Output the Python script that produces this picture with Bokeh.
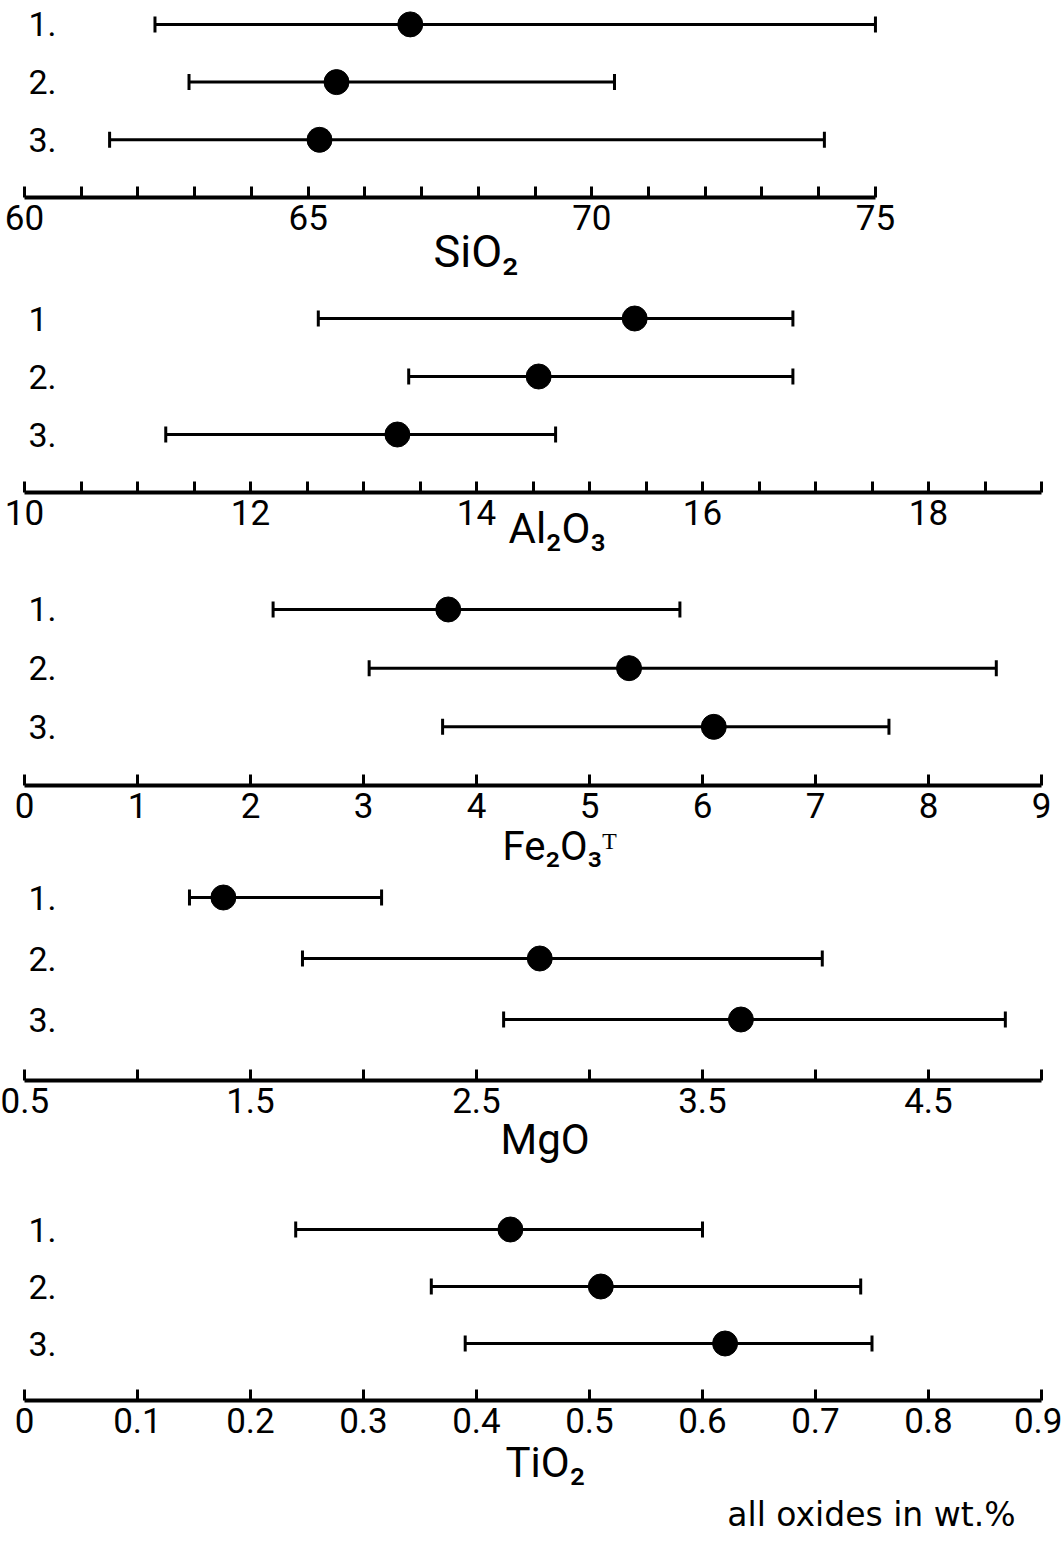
from bokeh.plotting import figure
from bokeh.layouts import column
from bokeh.models import Whisker, TeeHead, ColumnDataSource, FixedTicker, Title
from bokeh.core.properties import value
from bokeh.embed import file_html
from bokeh.resources import INLINE

FONT = "Roboto"

# ---- data -------------------------------------------------------------
row_pos = [3, 2, 1]

sio2_rows = ["1.", "2.", "3."]
sio2_lo = [62.3, 62.9, 61.5]
sio2_mean = [66.8, 65.5, 65.2]
sio2_hi = [75.0, 70.4, 74.1]
sio2_ticks = [60, 61, 62, 63, 64, 65, 66, 67, 68, 69, 70, 71, 72, 73, 74, 75]
sio2_labels = {60: "60", 65: "65", 70: "70", 75: "75"}

al2o3_rows = ["1", "2.", "3."]
al2o3_lo = [12.6, 13.4, 11.25]
al2o3_mean = [15.4, 14.55, 13.3]
al2o3_hi = [16.8, 16.8, 14.7]
al2o3_ticks = [10, 10.5, 11, 11.5, 12, 12.5, 13, 13.5, 14, 14.5, 15, 15.5,
               16, 16.5, 17, 17.5, 18, 18.5, 19]
al2o3_labels = {10: "10", 12: "12", 14: "14", 16: "16", 18: "18"}

fe2o3_rows = ["1.", "2.", "3."]
fe2o3_lo = [2.2, 3.05, 3.7]
fe2o3_mean = [3.75, 5.35, 6.1]
fe2o3_hi = [5.8, 8.6, 7.65]
fe2o3_ticks = [0, 1, 2, 3, 4, 5, 6, 7, 8, 9]
fe2o3_labels = {0: "0", 1: "1", 2: "2", 3: "3", 4: "4", 5: "5", 6: "6",
                7: "7", 8: "8", 9: "9"}

mgo_rows = ["1.", "2.", "3."]
mgo_lo = [1.23, 1.73, 2.62]
mgo_mean = [1.38, 2.78, 3.67]
mgo_hi = [2.08, 4.03, 4.84]
mgo_ticks = [0.5, 1.0, 1.5, 2.0, 2.5, 3.0, 3.5, 4.0, 4.5, 5.0]
mgo_labels = {0.5: "0.5", 1.5: "1.5", 2.5: "2.5", 3.5: "3.5", 4.5: "4.5"}

tio2_rows = ["1.", "2.", "3."]
tio2_lo = [0.24, 0.36, 0.39]
tio2_mean = [0.43, 0.51, 0.62]
tio2_hi = [0.60, 0.74, 0.75]
tio2_ticks = [0, 0.1, 0.2, 0.3, 0.4, 0.5, 0.6, 0.7, 0.8, 0.9]
tio2_labels = {0: "0", 0.1: "0.1", 0.2: "0.2", 0.3: "0.3", 0.4: "0.4",
               0.5: "0.5", 0.6: "0.6", 0.7: "0.7", 0.8: "0.8", 0.9: "0.9"}

FRAME_W = 1017


def panel(rows, lo, mean, hi, ticks, labels, start, end, px_per_unit,
          height, border_bottom, spacing, title, title_left, title_standoff,
          title_size):
    frame_h = height - border_bottom
    p = figure(width=1062, height=height,
               x_range=(start, start + FRAME_W / px_per_unit),
               y_range=(0, frame_h / spacing),
               output_backend="svg", toolbar_location=None,
               y_axis_location=None,
               min_border_left=24, min_border_right=1062 - 24 - FRAME_W,
               min_border_top=0, min_border_bottom=border_bottom)
    p.grid.visible = False
    p.outline_line_color = None
    p.background_fill_color = "white"
    p.border_fill_color = "white"

    ax = p.xaxis[0]
    ax.bounds = (start, end)
    ax.ticker = FixedTicker(ticks=ticks)
    ax.major_label_overrides = {t: labels.get(t, "") for t in ticks}
    ax.minor_tick_line_color = None
    ax.major_tick_in = 11
    ax.major_tick_out = 0
    ax.major_tick_line_width = 3
    ax.major_tick_line_color = "black"
    ax.axis_line_width = 4
    ax.axis_line_color = "black"
    ax.major_label_standoff = 7
    ax.major_label_text_font = FONT
    ax.major_label_text_font_size = "35px"
    ax.major_label_text_color = "black"

    src = ColumnDataSource(dict(base=row_pos, lower=lo, upper=hi, mean=mean,
                                label=rows, x0=[start] * 3))
    w = Whisker(base="base", lower="lower", upper="upper", dimension="width",
                source=src, line_width=3, line_color="black",
                upper_head=TeeHead(size=16, line_width=3, line_color="black"),
                lower_head=TeeHead(size=16, line_width=3, line_color="black"))
    p.add_layout(w)
    p.scatter(x="mean", y="base", size=25, color="black", source=src)
    p.text(x="x0", y="base", text="label", source=src, x_offset=4,
           text_align="left", text_baseline="middle",
           text_font=value(FONT), text_font_size="34px", text_color="black")

    p.add_layout(Title(text=title, align="left", offset=title_left - 24,
                       standoff=title_standoff, vertical_align="top",
                       text_font=FONT, text_font_size=title_size,
                       text_font_style="normal", text_color="black"),
                 "below")
    return p


p1 = panel(sio2_rows, sio2_lo, sio2_mean, sio2_hi, sio2_ticks, sio2_labels,
           60, 75, 56.73, 290, 93, 57.7, "SiO₂", 433, -15, "45px")
p2 = panel(al2o3_rows, al2o3_lo, al2o3_mean, al2o3_hi, al2o3_ticks,
           al2o3_labels, 10, 19, 113.0, 280, 78, 58, "Al₂O₃", 508, -47, "42px")
p3 = panel(fe2o3_rows, fe2o3_lo, fe2o3_mean, fe2o3_hi, fe2o3_ticks,
           fe2o3_labels, 0, 9, 113.0, 304, 89, 58.67, "Fe₂O₃ᵀ", 502, 4, "40px")
p4 = panel(mgo_rows, mgo_lo, mgo_mean, mgo_hi, mgo_ticks, mgo_labels,
           0.5, 5.0, 226.0, 296, 90, 61, "MgO", 500, -1, "42px")
p5 = panel(tio2_rows, tio2_lo, tio2_mean, tio2_hi, tio2_ticks, tio2_labels,
           0, 0.9, 1130.0, 371, 141, 57, "TiO₂", 505, 5, "42px")

p5.add_layout(Title(text="all oxides in wt.%", align="right", offset=26,
                    standoff=6, vertical_align="top",
                    text_font="DejaVu Sans", text_font_size="33px",
                    text_font_style="normal", text_color="black"),
              "below")

layout = column(p1, p2, p3, p4, p5, spacing=0)

with open("out.html", "w") as f:
    f.write(file_html(layout, INLINE))
